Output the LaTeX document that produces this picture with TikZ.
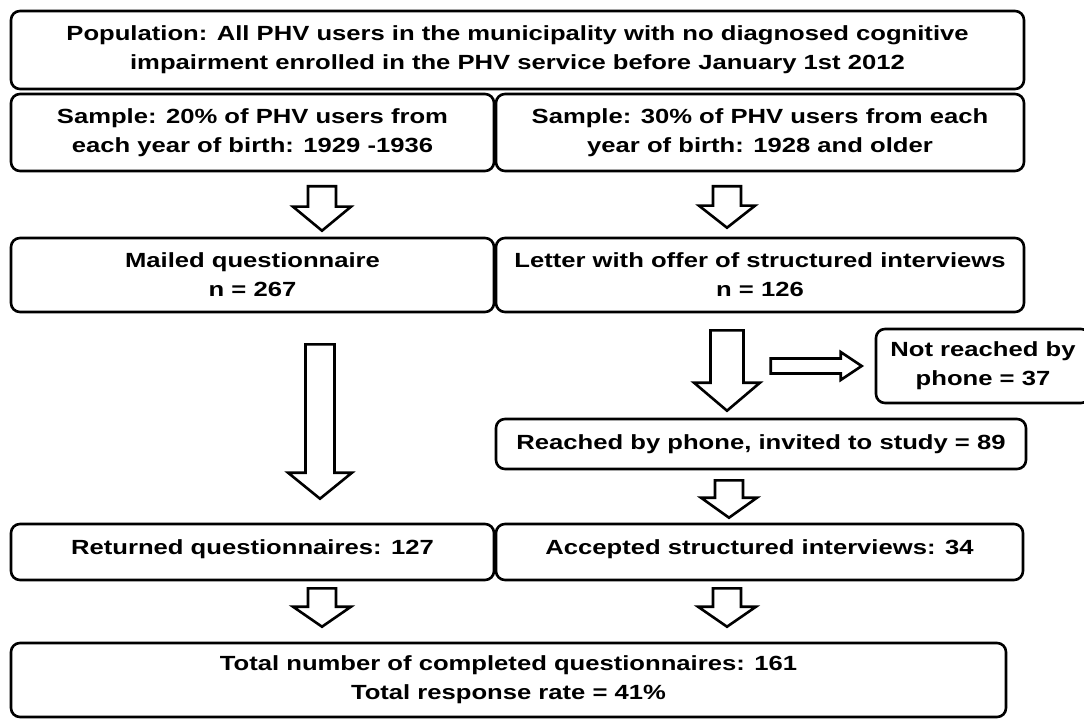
\documentclass[tikz,border=0pt]{standalone}
\usepackage{fontspec}
\newfontfamily\boxfont{Liberation Sans}[FakeStretch=1.25]
\usetikzlibrary{calc}
\tikzset{
	box/.style={draw,line width=2.6pt,rounded corners=9pt,align=center,inner sep=0pt,
		font=\boxfont\bfseries\fontsize{20.5}{29}\selectfont},
	fatdown/.style n args={3}{draw,line width=2.6pt,line join=miter,to path={
		let \p1=(\tikztostart), \p2=(\tikztotarget) in
		(\x1-#1,\y1) -- (\x1+#1,\y1) -- (\x1+#1,\y2+#3) -- (\x1+#2,\y2+#3) -- (\x1,\y2)
		-- (\x1-#2,\y2+#3) -- (\x1-#1,\y2+#3) -- cycle}},
	fatright/.style n args={3}{draw,line width=2.6pt,line join=miter,to path={
		let \p1=(\tikztostart), \p2=(\tikztotarget) in
		(\x1,\y1+#1) -- (\x2-#3,\y1+#1) -- (\x2-#3,\y1+#2) -- (\x2,\y1) -- (\x2-#3,\y1-#2)
		-- (\x2-#3,\y1-#1) -- (\x1,\y1-#1) -- cycle}}
}

\begin{document}
\begin{tikzpicture}[x=1pt,y=-1pt]
	\useasboundingbox (0,0) rectangle (1084,719);
	% boxes
	\node[box,minimum width=1013pt,minimum height=78pt] (pop) at (517.5,50)
		{Population: All PHV users in the municipality with no diagnosed cognitive\\impairment enrolled in the PHV service before January 1st 2012};
	\node[box,minimum width=483pt,minimum height=77pt] (sampL) at (252.5,132.5)
		{Sample: 20\% of PHV users from\\each year of birth: 1929 -1936};
	\node[box,minimum width=528pt,minimum height=77pt] (sampR) at (760,132.5)
		{Sample: 30\% of PHV users from each\\year of birth: 1928 and older};
	\node[box,minimum width=483pt,minimum height=74pt] (mailed) at (252.5,275)
		{Mailed questionnaire\\n = 267};
	\node[box,minimum width=528pt,minimum height=74pt] (letter) at (760,275)
		{Letter with offer of structured interviews\\n = 126};
	\node[box,minimum width=214pt,minimum height=74pt] (notr) at (983,366)
		{Not reached by\\phone = 37};
	\node[box,minimum width=530pt,minimum height=50pt] (reach) at (761,444)
		{Reached by phone, invited to study = 89};
	\node[box,minimum width=483pt,minimum height=56pt] (ret) at (252.5,552)
		{Returned questionnaires: 127\rule[-9pt]{0pt}{0pt}};
	\node[box,minimum width=527pt,minimum height=56pt] (acc) at (759.5,552)
		{Accepted structured interviews: 34\rule[-9pt]{0pt}{0pt}};
	\node[box,minimum width=995pt,minimum height=74pt] (total) at (508.5,680)
		{Total number of completed questionnaires: 161\\Total response rate = 41\%};
	% block arrows
	\draw[fatdown={14pt}{29pt}{24pt}] ([xshift=69.5pt,yshift=-14pt]sampL.south) to ([xshift=69.5pt,yshift=6pt]mailed.north);
	\draw[fatdown={14pt}{28pt}{22pt}] ([xshift=-33pt,yshift=-14pt]sampR.south) to ([xshift=-33pt,yshift=9pt]letter.north);
	\draw[fatdown={14.5pt}{32pt}{26pt}] ([xshift=67.5pt,yshift=-31pt]mailed.south) to ([xshift=67.5pt,yshift=24pt]ret.north);
	\draw[fatdown={16.5pt}{33pt}{28pt}] ([xshift=-33pt,yshift=-17pt]letter.south) to ([xshift=-34pt,yshift=7pt]reach.north);
	\draw[fatright={7.5pt}{14pt}{21pt}] ([xshift=-104pt]notr.west) to ([xshift=-13pt]notr.west);
	\draw[fatdown={14pt}{28pt}{20pt}] ([xshift=-32pt,yshift=-10pt]reach.south) to ([xshift=-30.5pt,yshift=5pt]acc.north);
	\draw[fatdown={14pt}{29pt}{20pt}] ([xshift=69.5pt,yshift=-7pt]ret.south) to ([xshift=-186.5pt,yshift=15pt]total.north);
	\draw[fatdown={14pt}{29pt}{20pt}] ([xshift=-32.5pt,yshift=-7pt]acc.south) to ([xshift=218.5pt,yshift=15pt]total.north);
\end{tikzpicture}
\end{document}
